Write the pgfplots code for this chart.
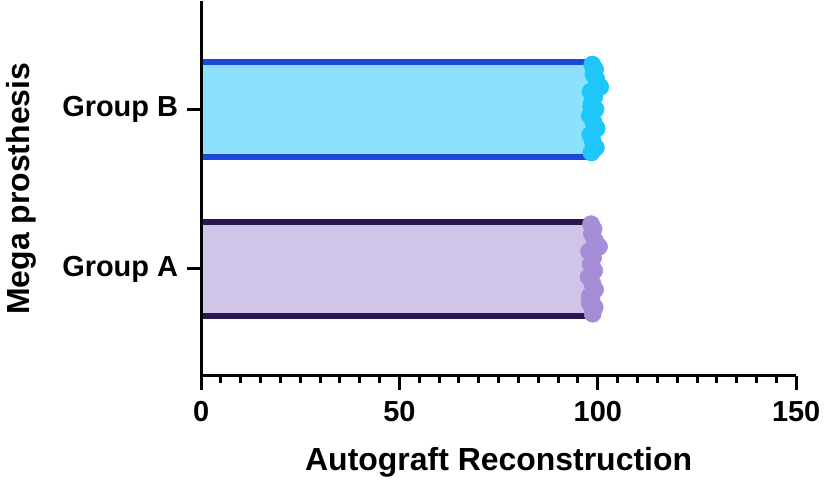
\documentclass[border=0pt]{standalone}
\usepackage{pgfplots}
\pgfplotsset{compat=1.18}
\usepackage{fontspec}
\setmainfont{Liberation Sans}
\definecolor{bfill}{HTML}{8CE1FC}
\definecolor{bline}{HTML}{1A48D8}
\definecolor{bdot}{HTML}{1EC6FA}
\definecolor{afill}{HTML}{D0C4E8}
\definecolor{aline}{HTML}{2A1750}
\definecolor{adot}{HTML}{A68ED6}
\begin{document}
\begin{tikzpicture}
\begin{axis}[
  scale only axis, width=298pt, height=187.5pt,
  xmin=0, xmax=150, ymin=-0.67, ymax=1.675,
  axis x line*=bottom, axis y line*=left,
  axis line style={line width=1.5pt, -},
  axis on top,
  xtick={0,50,100,150}, minor x tick num=9,
  ytick={0,1}, yticklabels={Group A, Group B},
  tick style={line width=1.5pt, black},
  major tick length=7pt, minor tick length=3.5pt,
  tick align=outside,
  /pgf/number format/assume math mode=true,
  tick label style={font=\bfseries\fontsize{14.5}{16}\selectfont},
  x tick label style={yshift=-2pt},
  y tick label style={xshift=-1pt},
  label style={font=\bfseries\fontsize{16}{18}\selectfont},
  xlabel={Autograft Reconstruction},
  ylabel={Mega prosthesis},
  xlabel style={yshift=-6pt},
  ylabel style={yshift=6pt},
  clip=false,
]
\addplot[xbar, bar shift=0pt, bar width=0.63, fill=bfill, draw=none] coordinates {(98.5,1)};
\addplot[xbar, bar shift=0pt, bar width=0.63, fill=afill, draw=none] coordinates {(98.5,0)};
\addplot[bline, line width=3pt] coordinates {(0,1.297) (98.5,1.297)};
\addplot[bline, line width=3pt] coordinates {(0,0.703) (98.5,0.703)};
\addplot[aline, line width=3pt] coordinates {(0,0.297) (98.5,0.297)};
\addplot[aline, line width=3pt] coordinates {(0,-0.297) (98.5,-0.297)};
\addplot[only marks, mark=*, mark size=4.25pt, bdot] coordinates {
(98.6,1.28) (99.3,1.25) (98.9,1.22) (99.6,1.19) (100.6,1.14) (98.2,1.11)
(99.1,1.08) (98.5,1.04) (99.4,1.00) (98.0,0.96) (98.9,0.92) (99.7,0.88)
(98.1,0.84) (98.7,0.80) (99.5,0.76) (98.4,0.73) (99.8,1.16) (98.3,1.02)};
\addplot[only marks, mark=*, mark size=4.25pt, adot] coordinates {
(98.3,0.28) (98.9,0.25) (98.5,0.22) (99.2,0.18) (100.3,0.14) (97.8,0.11)
(98.8,0.07) (98.2,0.03) (99.1,-0.01) (97.7,-0.05) (98.6,-0.09) (99.3,-0.13)
(98.0,-0.17) (97.9,-0.21) (99.2,-0.24) (98.7,-0.28) (99.6,0.16) (98.4,-0.19)};
\end{axis}
\end{tikzpicture}
\end{document}
